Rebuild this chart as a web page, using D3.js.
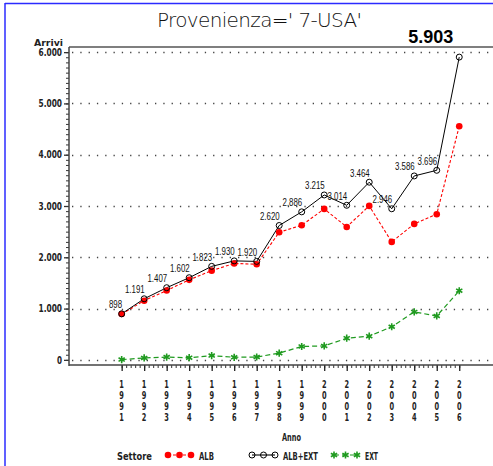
<!DOCTYPE html>
<html>
<head>
<meta charset="utf-8">
<script src="https://d3js.org/d3.v7.min.js"></script>
<style>
  body { margin: 0; background: #fff; }
  svg { display: block; }
  .narrow { font-family: "DejaVu Sans", sans-serif; font-stretch: condensed; }
</style>
</head>
<body>
<div id="chart"></div>
<script>
"use strict";

// data
var years = [1991, 1992, 1993, 1994, 1995, 1996, 1997, 1998, 1999, 2000, 2001, 2002, 2003, 2004, 2005, 2006];
var albExt = [898, 1191, 1407, 1602, 1823, 1930, 1920, 2620, 2886, 3215, 3014, 3464, 2946, 3586, 3696, 5903];
var alb = [893, 1154, 1353, 1560, 1740, 1880, 1864, 2489, 2625, 2943, 2592, 3002, 2300, 2651, 2840, 4555];
var ext = [5, 37, 54, 42, 83, 50, 56, 131, 261, 272, 422, 462, 646, 935, 856, 1348];
var seriesNames = ["ALB", "ALB+EXT", "EXT"];
var yTicks = [0, 1000, 2000, 3000, 4000, 5000, 6000];

var W = 493, H = 466;
var svg = d3.select("#chart").append("svg").attr("width", W).attr("height", H);

var x = d3.scaleLinear().domain([1988.66, 2007.5]).range([69, 493]);
var y = d3.scaleLinear().domain([-100, 6100]).range([365, 47]);

var it = d3.formatLocale({decimal: ",", thousands: ".", grouping: [3], currency: ["", "€"]});
var fmt = it.format(",d");

// squeeze text to the narrow look of the original font
function narrowLen(s, dw, pw) {
  return s.split("").reduce((a, c) => a + (c === "." ? pw : dw), 0);
}

// blue frame
svg.append("line").attr("x1", 5).attr("x2", 5).attr("y1", 3).attr("y2", H)
  .attr("stroke", "#2b2bff").attr("stroke-width", 1.5);
svg.append("line").attr("x1", 5).attr("x2", W).attr("y1", 3.5).attr("y2", 3.5)
  .attr("stroke", "#2b2bff").attr("stroke-width", 1.5);

// title
svg.append("text").attr("class", "narrow")
  .attr("x", 157).attr("y", 27)
  .attr("textLength", 205).attr("lengthAdjust", "spacing")
  .style("font-size", "20px").style("font-weight", "300").style("fill", "#111")
  .text("Provenienza=' 7-USA'");

// grid lines (dotted)
svg.append("g").selectAll("line").data(yTicks).join("line")
  .attr("x1", 72).attr("x2", W)
  .attr("y1", d => Math.round(y(d)) + 0.5).attr("y2", d => Math.round(y(d)) + 0.5)
  .attr("stroke", "#444").attr("stroke-width", 1.3)
  .attr("stroke-dasharray", "1.3,7");

// frame top line
svg.append("line").attr("x1", 69).attr("x2", W).attr("y1", 47).attr("y2", 47)
  .attr("stroke", "#555").attr("stroke-width", 1.5);

// y axis
var yMinor = d3.range(0, 6001, 100);
var gy = svg.append("g").attr("transform", "translate(69,0)")
  .call(d3.axisLeft(y).tickValues(yMinor).tickSize(3).tickFormat(""));
gy.select(".domain").remove();
gy.selectAll(".tick line").attr("stroke", "#333");
var gy2 = svg.append("g").attr("transform", "translate(69,0)")
  .call(d3.axisLeft(y).tickValues(yTicks).tickSize(5).tickPadding(2).tickFormat(fmt));
gy2.select(".domain").remove();
gy2.selectAll(".tick line").attr("stroke", "#333").attr("stroke-width", 1.3);
gy2.selectAll(".tick text").attr("class", "narrow")
  .attr("textLength", d => narrowLen(fmt(d), 5, 3.5)).attr("lengthAdjust", "spacingAndGlyphs")
  .style("font-size", "10px").style("font-weight", "bold").style("fill", "#222");
svg.append("line").attr("x1", 69).attr("x2", 69).attr("y1", 47).attr("y2", 366)
  .attr("stroke", "#444").attr("stroke-width", 1.5);

svg.append("text").attr("class", "narrow")
  .attr("x", 34).attr("y", 46)
  .attr("textLength", 29).attr("lengthAdjust", "spacingAndGlyphs")
  .style("font-size", "9px").style("font-weight", "bold").style("fill", "#222")
  .text("Arrivi");

// x axis
var xMinor = d3.range(0, 76).map(i => 1991 + i * 0.2);
var gx = svg.append("g").attr("transform", "translate(0,365)")
  .call(d3.axisBottom(x).tickValues(xMinor).tickSize(3).tickFormat(""));
gx.select(".domain").remove();
gx.selectAll(".tick line").attr("stroke", "#333");
var gx2 = svg.append("g").attr("transform", "translate(0,365)")
  .call(d3.axisBottom(x).tickValues(years).tickSize(6).tickFormat(""));
gx2.select(".domain").remove();
gx2.selectAll(".tick line").attr("stroke", "#222").attr("stroke-width", 1.3);
svg.append("line").attr("x1", 69).attr("x2", W).attr("y1", 365).attr("y2", 365)
  .attr("stroke", "#444").attr("stroke-width", 1.5);

// stacked year labels, one digit per row
var digits = [];
years.forEach(yr => String(yr).split("").forEach((c, i) => digits.push({yr: yr, c: c, i: i})));
svg.append("g").selectAll("text").data(digits).join("text")
  .attr("class", "narrow")
  .attr("x", d => x(d.yr) - 2.3).attr("y", d => 387.5 + d.i * 11.3)
  .attr("textLength", 4.6).attr("lengthAdjust", "spacingAndGlyphs")
  .style("font-size", "10px").style("font-weight", "bold").style("fill", "#222")
  .text(d => d.c);

svg.append("text").attr("class", "narrow")
  .attr("x", 282).attr("y", 441)
  .attr("textLength", 19).attr("lengthAdjust", "spacingAndGlyphs")
  .style("font-size", "10px").style("font-weight", "bold").style("fill", "#222")
  .text("Anno");

// series
var pts = (vals) => vals.map((v, i) => [years[i], v]);
var line = d3.line().x(d => x(d[0])).y(d => y(d[1]));

var red = "#ff0000", green = "#1f9a1f";

svg.append("path").datum(pts(ext)).attr("d", line)
  .attr("fill", "none").attr("stroke", green).attr("stroke-width", 1.2)
  .attr("stroke-dasharray", "5,3");
svg.append("path").datum(pts(alb)).attr("d", line)
  .attr("fill", "none").attr("stroke", red).attr("stroke-width", 1.1)
  .attr("stroke-dasharray", "3,2");
svg.append("path").datum(pts(albExt)).attr("d", line)
  .attr("fill", "none").attr("stroke", "#000").attr("stroke-width", 1);

var star = d3.symbol().type(d3.symbolAsterisk).size(36);
function drawStar(g, cx, cy) {
  g.append("path").attr("d", star).attr("transform", "translate(" + cx + "," + cy + ")")
    .attr("stroke", green).attr("stroke-width", 1.6).attr("fill", "none");
}
function drawDot(g, cx, cy) {
  g.append("circle").attr("cx", cx).attr("cy", cy).attr("r", 3.3).attr("fill", red);
}
function drawRing(g, cx, cy) {
  g.append("circle").attr("cx", cx).attr("cy", cy).attr("r", 3)
    .attr("fill", "none").attr("stroke", "#000").attr("stroke-width", 1);
}

var gm = svg.append("g");
pts(ext).forEach(d => drawStar(gm, x(d[0]), y(d[1])));
pts(alb).forEach(d => drawDot(gm, x(d[0]), y(d[1])));
pts(albExt).forEach(d => drawRing(gm, x(d[0]), y(d[1])));

// value labels for ALB+EXT
var last = albExt.length - 1;
svg.append("g").selectAll("text").data(pts(albExt).slice(0, last)).join("text")
  .attr("x", d => x(d[0]) + 0.5).attr("y", d => y(d[1]) - 5.5)
  .attr("text-anchor", "end")
  .attr("textLength", d => narrowLen(fmt(d[1]), 4.4, 2.1)).attr("lengthAdjust", "spacingAndGlyphs")
  .style("font-family", "'Liberation Sans', Arial, sans-serif")
  .style("font-size", "11px").style("fill", "#111")
  .text(d => fmt(d[1]));
svg.append("text")
  .attr("x", x(years[last]) - 6).attr("y", 43)
  .attr("text-anchor", "end")
  .style("font-family", "'Liberation Sans', Arial, sans-serif")
  .style("font-size", "18px").style("font-weight", "bold").style("fill", "#000")
  .text(fmt(albExt[last]));

// legend
var lg = svg.append("g");
lg.append("text").attr("class", "narrow")
  .attr("x", 117).attr("y", 460)
  .attr("textLength", 35).attr("lengthAdjust", "spacingAndGlyphs")
  .style("font-size", "10px").style("font-weight", "bold").style("fill", "#222")
  .text("Settore");
var legX = [168, 252, 334];
var legW = [15, 35, 13];
var legY = 455;
seriesNames.forEach(function(name, i) {
  var x0 = legX[i], xs = [x0, x0 + 11.5, x0 + 23];
  var stroke = i === 0 ? red : i === 1 ? "#000" : green;
  var dash = i === 0 ? "3,2" : i === 1 ? null : "5,3";
  lg.append("line").attr("x1", xs[0]).attr("x2", xs[2]).attr("y1", legY).attr("y2", legY)
    .attr("stroke", stroke).attr("stroke-width", 1.1).attr("stroke-dasharray", dash);
  xs.forEach(function(cx) {
    if (i === 0) drawDot(lg, cx, legY);
    else if (i === 1) drawRing(lg, cx, legY);
    else drawStar(lg, cx, legY);
  });
  lg.append("text").attr("class", "narrow")
    .attr("x", x0 + 31).attr("y", 460)
    .attr("textLength", legW[i]).attr("lengthAdjust", "spacingAndGlyphs")
    .style("font-size", "10px").style("font-weight", "bold").style("fill", "#222")
    .text(name);
});
</script>
</body>
</html>
